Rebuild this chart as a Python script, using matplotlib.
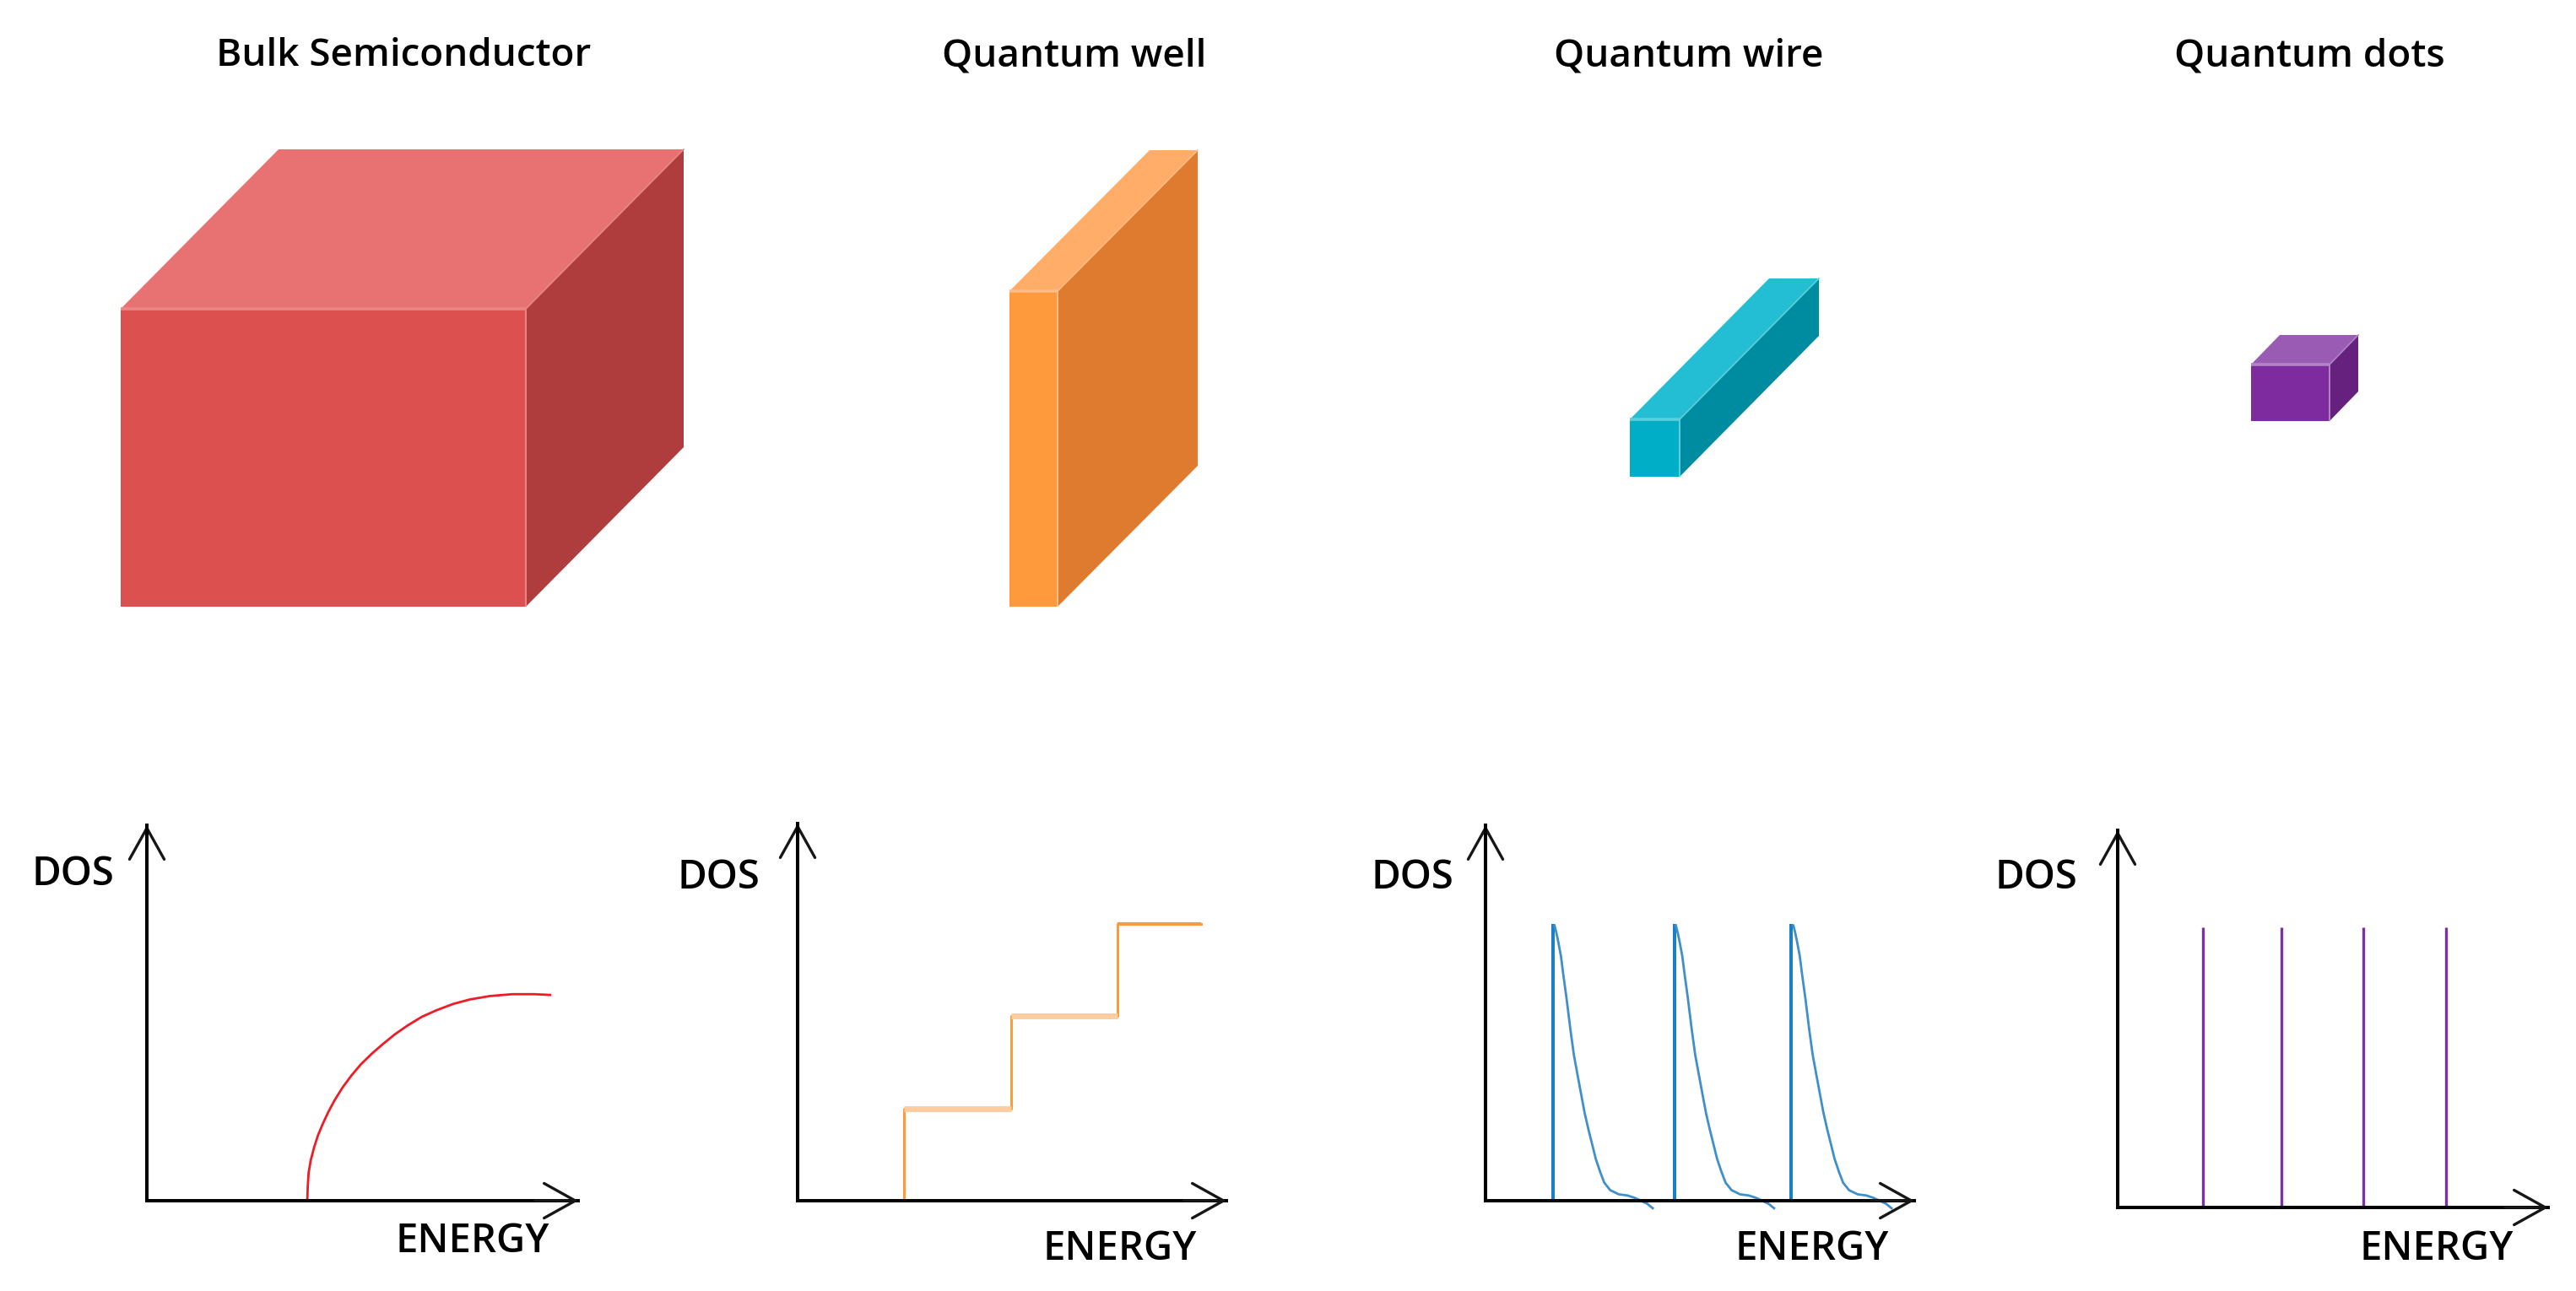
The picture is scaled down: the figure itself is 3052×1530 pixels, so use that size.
import matplotlib
matplotlib.use('Agg')
from matplotlib import pyplot as plt
from matplotlib.patches import Polygon

W, H = 3052, 1530

titles = ['Bulk Semiconductor', 'Quantum well', 'Quantum wire', 'Quantum dots']
title_x = [478, 1273, 2001, 2736]

# boxes, in pixels of the picture
box_x = [143, 1196, 1931, 2667]
box_y = [366, 345, 497, 432]
box_w = [480, 57, 59, 93]
box_h = [353, 374, 68, 67]
box_dx = [187, 166, 165, 34]
box_dy = [189, 167, 167, 35]
front_colors = ['#DC5050', '#FF9A3C', '#00AFC7', '#7F2BA0']
top_colors = ['#E87272', '#FFAD69', '#24BED4', '#9A5BB4']
side_colors = ['#B03D3D', '#DE7B2F', '#008CA0', '#66217F']
edge_colors = ['#EB8686', '#FFBC85', '#5CCFDD', '#B084C6']

# density of states curves, energy and DOS in percent of each axis
bulk_energy = [37.2, 37.3, 37.5, 38.0, 38.8, 39.7, 40.8, 42.1, 43.6, 45.4, 47.4, 49.6,
               52.1, 54.7, 57.6, 60.5, 63.8, 67.1, 71.0, 74.9, 79.5, 84.7, 89.9, 93.5]
bulk_dos = [0, 3.7, 7.4, 10.8, 14.3, 17.5, 20.5, 23.7, 26.9, 30.2, 33.3, 36.3,
            39.1, 41.7, 44.4, 46.7, 49.0, 50.7, 52.4, 53.6, 54.5, 55.0, 55.0, 54.8]

well_energy = [24.9, 24.9, 49.9, 49.9, 74.7, 74.7, 94.0]
well_dos = [0, 24.3, 24.3, 49.0, 49.0, 73.3, 73.3]

wire_peaks = [15.7, 44.0, 71.3]
wire_peak_dos = 73.7
wire_dos = [73.3, 71.5, 68.8, 65.1, 60.6, 53.9, 45.6, 38.9, 33.3, 28.4, 23.5, 19.0,
            14.9, 11.2, 7.8, 4.8, 2.8, 1.7, 1.4, 0.8, -0.1, -0.8, -2.0]
wire_energy_1 = [16.1, 16.5, 17.0, 17.6, 18.1, 18.9, 19.8, 20.6, 21.5, 22.3, 23.1, 24.0,
                 24.9, 25.7, 26.7, 27.7, 29.1, 31.1, 33.1, 34.7, 36.4, 37.7, 39.0]
wire_energy_2 = [44.4, 44.8, 45.3, 45.9, 46.4, 47.2, 48.1, 48.9, 49.8, 50.6, 51.4, 52.3,
                 53.2, 54.0, 55.0, 56.0, 57.4, 59.4, 61.4, 63.0, 64.7, 66.0, 67.3]
wire_energy_3 = [71.8, 72.2, 72.7, 73.3, 73.8, 74.6, 75.5, 76.3, 77.2, 78.0, 78.8, 79.7,
                 80.6, 81.4, 82.4, 83.4, 84.8, 86.8, 88.8, 90.4, 92.1, 93.4, 94.7]

dot_energy = [19.9, 38.0, 57.1, 76.2]
dot_height = 74.3

# axes boxes: left, base, width, height in pixels
panels = [(174, 1423, 511, 445), (945, 1423, 508, 447),
          (1760, 1423, 508, 445), (2509, 1431, 510, 447)]
dos_x = [86, 851, 1673, 2412]
dos_y = [1049, 1053, 1053, 1053]
energy_x = [560, 1327, 2147, 2887]
energy_y = [1484, 1493, 1493, 1493]

plt.rcParams['font.family'] = ['Open Sans', 'DejaVu Sans']

fig = plt.figure(figsize=(W / 100, H / 100), dpi=100, facecolor='white')

# full size axes in pixel units for boxes and text
bg = fig.add_axes([0, 0, 1, 1])
bg.set_xlim(0, W)
bg.set_ylim(H, 0)
bg.axis('off')

for i in range(4):
    x, y, w, h = box_x[i], box_y[i], box_w[i], box_h[i]
    dx, dy = box_dx[i], box_dy[i]
    bg.add_patch(Polygon([(x, y), (x + w, y), (x + w + dx, y - dy), (x + dx, y - dy)],
                         fc=top_colors[i], ec='none'))
    bg.add_patch(Polygon([(x + w, y), (x + w + dx, y - dy), (x + w + dx, y + h - dy), (x + w, y + h)],
                         fc=side_colors[i], ec='none'))
    bg.add_patch(Polygon([(x, y), (x + w, y), (x + w, y + h), (x, y + h)],
                         fc=front_colors[i], ec='none'))
    # lighter bevel along the front and the corner
    bg.plot([x, x + w], [y, y], color=edge_colors[i], lw=2.6, solid_capstyle='butt')
    bg.plot([x + w, x + w], [y, y + h], color=edge_colors[i], lw=1.4, solid_capstyle='butt')
    bg.plot([x + w, x + w + dx], [y, y - dy], color=edge_colors[i], lw=1.2)
    bg.text(title_x[i], 78, titles[i], fontsize=33, fontweight='semibold', ha='center', va='baseline')
    bg.text(dos_x[i], dos_y[i], 'DOS', fontsize=34, fontweight='semibold', ha='center', va='baseline')
    bg.text(energy_x[i], energy_y[i], 'ENERGY', fontsize=34, fontweight='semibold', ha='center', va='baseline')

axes = []
for left, base, width, height in panels:
    ax = fig.add_axes([left / W, 1 - base / H, width / W, height / H])
    ax.patch.set_alpha(0)
    ax.set_xlim(0, 100)
    ax.set_ylim(0, 100)
    ax.set_xticks([])
    ax.set_yticks([])
    ax.spines[['top', 'right']].set_visible(False)
    ax.spines['left'].set_linewidth(2.9)
    ax.spines['left'].set_zorder(3)
    ax.spines['bottom'].set_linewidth(2.9)
    arrow = dict(arrowstyle='->,head_length=26.6,head_width=14.8', lw=2.4, color='#161616',
                 mutation_scale=1, shrinkA=0, shrinkB=0)
    ax.annotate('', xy=(1, 0), xytext=(0.9, 0), xycoords='axes fraction', arrowprops=arrow)
    ax.annotate('', xy=(0, 1), xytext=(0, 0.9), xycoords='axes fraction', arrowprops=arrow)
    axes.append(ax)

axes[0].plot(bulk_energy, bulk_dos, color='#EE1C25', lw=2)

axes[1].plot(well_energy, well_dos, color='#FF9A3C', lw=2.2)
axes[1].plot(well_energy[1:3], well_dos[1:3], color='#FFCC9F', lw=5, solid_capstyle='butt')
axes[1].plot(well_energy[3:5], well_dos[3:5], color='#FFCC9F', lw=5, solid_capstyle='butt')
axes[1].plot(well_energy[5:7], well_dos[5:7], color='#FF9A3C', lw=3, solid_capstyle='butt')

axes[2].vlines(wire_peaks, 0, wire_peak_dos, color='#1A80C4', lw=2.9)
for wire_energy in [wire_energy_1, wire_energy_2, wire_energy_3]:
    axes[2].plot(wire_energy, wire_dos, color='#3F8FCB', lw=2, clip_on=False)

axes[3].vlines(dot_energy, 0, dot_height, color='#7B30A5', lw=2.4)

fig.savefig('out.png', dpi=100)
